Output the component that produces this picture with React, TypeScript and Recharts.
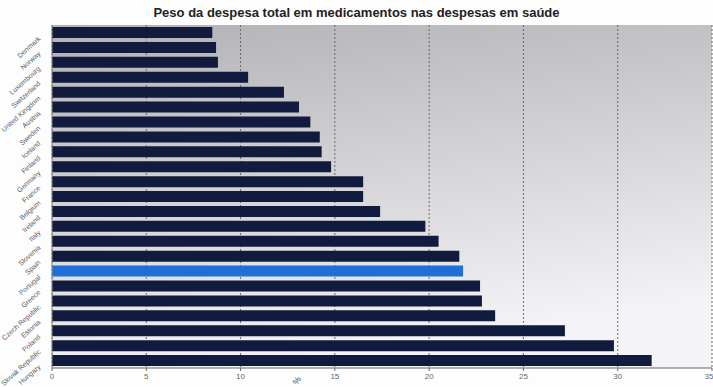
import React from "react";
import { BarChart, Bar, XAxis, YAxis, CartesianGrid, Cell } from "recharts";

const countries = [
  "Denmark", "Norway", "Luxembourg", "Switzerland", "United Kingdom", "Austria",
  "Sweden", "Iceland", "Finland", "Germany", "France", "Belgium", "Ireland", "Italy",
  "Slovenia", "Spain", "Portugal", "Greece", "Czech Republic", "Estonia", "Poland",
  "Slovak Republic", "Hungary",
];
const shares = [
  8.5, 8.7, 8.8, 10.4, 12.3, 13.1, 13.7, 14.2, 14.3, 14.8, 16.5, 16.5, 17.4,
  19.8, 20.5, 21.6, 21.8, 22.7, 22.8, 23.5, 27.2, 29.8, 31.8,
];
const highlight = "Portugal";
const xTicks = [0, 5, 10, 15, 20, 25, 30, 35];

const data = countries.map((c, i) => ({ country: c, value: shares[i] }));

// rotated country names, nudged down like the scanned original
function CountryTick(props: any) {
  const { x, y, payload } = props;
  const tx = x - 3;
  const ty = y + 7;
  return (
    <text
      x={tx}
      y={ty}
      transform={`rotate(-42 ${tx} ${ty})`}
      textAnchor="end"
      fontSize={7}
      fill="#5a5a5a"
      fontFamily="Liberation Sans, Arial, sans-serif"
    >
      {payload.value}
    </text>
  );
}

function PctLabel(props: any) {
  const vb = props.viewBox || {};
  const x = vb.x + vb.width * 0.375;
  const y = vb.y + 14;
  return (
    <text
      x={x}
      y={y}
      transform={`rotate(-60 ${x} ${y})`}
      textAnchor="middle"
      fontSize={9}
      fill="#444"
      fontFamily="Liberation Sans, Arial, sans-serif"
    >
      %
    </text>
  );
}

export default function App() {
  return (
    <div style={{ position: "absolute", left: 0, top: 0, width: 713, height: 387, background: "#fdfdfd" }}>
      <div
        style={{
          position: "absolute",
          left: 0,
          top: 5,
          width: 713,
          textAlign: "center",
          fontFamily: "Liberation Sans, Arial, sans-serif",
          fontWeight: "bold",
          fontSize: 13,
          color: "#222",
        }}
      >
        Peso da despesa total em medicamentos nas despesas em saúde
      </div>
      <BarChart
        width={713}
        height={387}
        data={data}
        layout="vertical"
        margin={{ top: 25, right: 1, bottom: 0, left: 0 }}
        barSize={11}
      >
        <defs>
          <linearGradient id="bg" x1="0" y1="0" x2="0.25" y2="1">
            <stop offset="0%" stopColor="#b2b2b6" />
            <stop offset="100%" stopColor="#f4f4f6" />
          </linearGradient>
        </defs>
        <CartesianGrid
          horizontal={false}
          stroke="#6a6a6a"
          strokeDasharray="2 2"
          fill="url(#bg)"
          fillOpacity={1}
        />
        <XAxis
          type="number"
          domain={[0, 35]}
          ticks={xTicks}
          height={19}
          tick={{ fontSize: 8, fill: "#666", fontFamily: "Liberation Sans, Arial, sans-serif" }}
          tickSize={3}
          stroke="#666"
          label={<PctLabel />}
        />
        <YAxis
          type="category"
          dataKey="country"
          width={52}
          tick={<CountryTick />}
          tickLine={false}
          stroke="#888"
          interval={0}
        />
        <Bar dataKey="value" isAnimationActive={false}>
          {data.map((d) => (
            <Cell key={d.country} fill={d.country === highlight ? "#1f6fd6" : "#111b3d"} />
          ))}
        </Bar>
      </BarChart>
    </div>
  );
}
